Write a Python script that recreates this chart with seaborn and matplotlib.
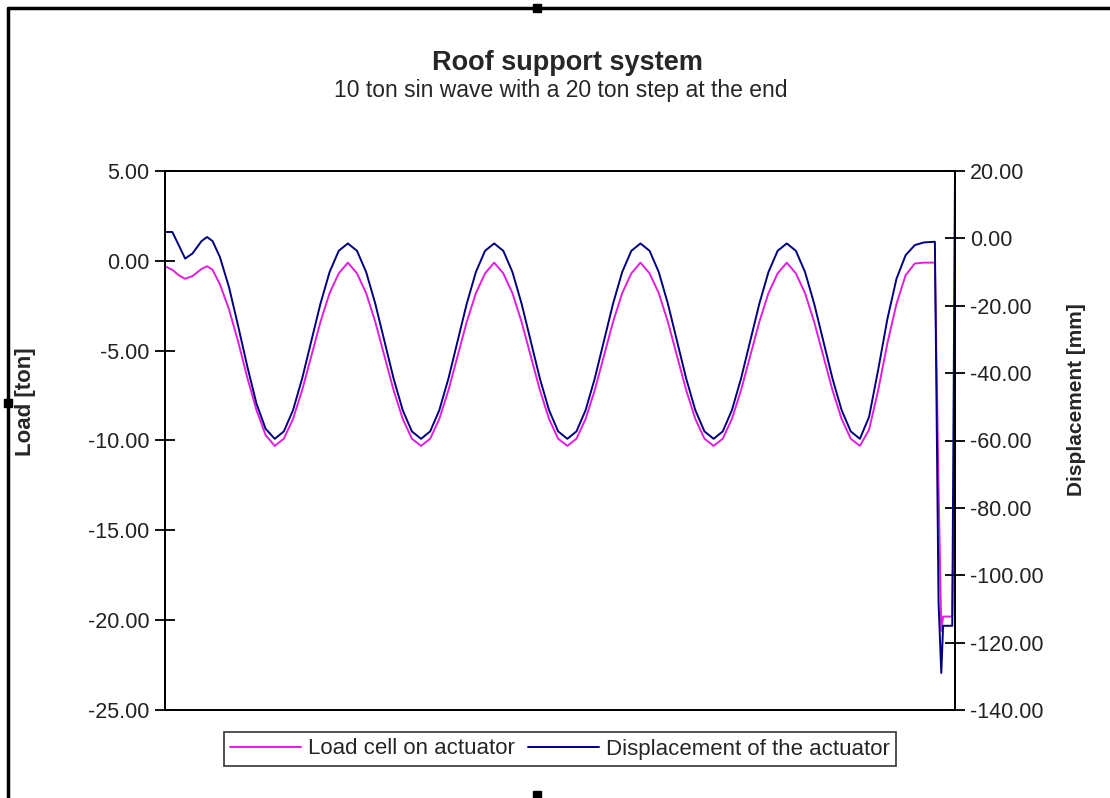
import numpy as np
import pandas as pd
import matplotlib
matplotlib.use("Agg")
import matplotlib.pyplot as plt
import seaborn as sns
from matplotlib.lines import Line2D
from matplotlib.patches import Rectangle

# time in seconds (no x axis labels in the original)
time_s = [0, 0.8, 1.5, 2.2, 3, 4, 4.6, 5.2, 6, 7, 8, 9, 10, 11,
          12, 13, 14, 15, 16, 17, 18, 19, 20, 21, 22, 23, 24, 25, 26, 27,
          28, 29, 30, 31, 32, 33, 34, 35, 36, 37, 38, 39, 40, 41, 42, 43,
          44, 45, 46, 47, 48, 49, 50, 51, 52, 53, 54, 55, 56, 57, 58, 59,
          60, 61, 62, 63, 64, 65, 66, 67, 68, 69, 70, 71, 72, 73, 74, 75,
          76, 77, 78, 79, 80, 81, 82, 83,
          84.2, 84.6, 84.9, 85.1, 86.1, 86.4]

load_ton = [-0.3, -0.5, -0.8, -1.0, -0.85, -0.45, -0.3, -0.5, -1.3, -2.7, -4.5, -6.5, -8.3, -9.7,
            -10.3, -9.9, -8.8, -7.2, -5.3, -3.4, -1.8, -0.7, -0.1, -0.7, -1.8, -3.4, -5.3, -7.2, -8.8, -9.9,
            -10.3, -9.9, -8.8, -7.2, -5.3, -3.4, -1.8, -0.7, -0.1, -0.7, -1.8, -3.4, -5.3, -7.2, -8.8, -9.9,
            -10.3, -9.9, -8.8, -7.2, -5.3, -3.4, -1.8, -0.7, -0.1, -0.7, -1.8, -3.4, -5.3, -7.2, -8.8, -9.9,
            -10.3, -9.9, -8.8, -7.2, -5.3, -3.4, -1.8, -0.7, -0.1, -0.7, -1.8, -3.4, -5.3, -7.2, -8.8, -9.9,
            -10.3, -9.4, -7.2, -4.6, -2.4, -0.8, -0.15, -0.1,
            -0.1, -12.5, -20.6, -19.8, -19.8, -8.5]

disp_mm = [1.9, 1.9, -2.0, -6.0, -4.5, -0.8, 0.4, -0.8, -5.5, -14.5, -26.0, -38.0, -49.0, -56.5,
           -59.5, -57.3, -51.0, -41.6, -30.5, -19.4, -10.0, -3.7, -1.5, -3.7, -10.0, -19.4, -30.5, -41.6, -51.0, -57.3,
           -59.5, -57.3, -51.0, -41.6, -30.5, -19.4, -10.0, -3.7, -1.5, -3.7, -10.0, -19.4, -30.5, -41.6, -51.0, -57.3,
           -59.5, -57.3, -51.0, -41.6, -30.5, -19.4, -10.0, -3.7, -1.5, -3.7, -10.0, -19.4, -30.5, -41.6, -51.0, -57.3,
           -59.5, -57.3, -51.0, -41.6, -30.5, -19.4, -10.0, -3.7, -1.5, -3.7, -10.0, -19.4, -30.5, -41.6, -51.0, -57.3,
           -59.5, -53.0, -39.0, -24.0, -12.0, -5.0, -2.0, -1.2,
           -1.0, -108.0, -129.0, -115.0, -115.0, 20.0]

load_ticks = [5, 0, -5, -10, -15, -20, -25]
disp_ticks = [20, 0, -20, -40, -60, -80, -100, -120, -140]

df = pd.DataFrame({"t": time_s, "load": load_ton, "disp": disp_mm})

sns.set_style("white")
plt.rcParams['font.family'] = ['Liberation Sans', 'DejaVu Sans']

magenta = "#E01EE0"
navy = "#000080"

fig = plt.figure(figsize=(11.1, 7.98), dpi=100)
ax = fig.add_axes([165/1110, 1-710/798, (955-165)/1110, (710-171)/798])
ax2 = ax.twinx()

sns.lineplot(data=df, x="t", y="load", ax=ax, color=magenta, linewidth=1.4,
             estimator=None, sort=False)
sns.lineplot(data=df, x="t", y="disp", ax=ax2, color=navy, linewidth=1.4,
             estimator=None, sort=False)

ax.set_xlim(0, 86.4)
ax.set_ylim(-25, 5)
ax2.set_ylim(-140, 20)
ax.set_xticks([])
ax.set_yticks(load_ticks)
ax.set_yticklabels([f"{v:.2f}" for v in load_ticks], fontsize=15.5, color="#222222")
ax2.set_yticks(disp_ticks)
ax2.set_yticklabels([f"{v:.2f}" for v in disp_ticks], fontsize=15.5, color="#222222")
ax.set_xlabel("")
ax.set_ylabel("")
ax2.set_ylabel("")
for a in (ax, ax2):
    a.tick_params(axis="y", direction="inout", length=14, width=1.3, color="black", pad=4)
    for s in a.spines.values():
        s.set_color("black")
        s.set_linewidth(1.3)
ax.patch.set_visible(False)

fig.text(25/1110, 1-402/798, "Load [ton]", rotation=90, ha="center", va="center",
         fontsize=16, fontweight="bold")
fig.text(1077/1110, 1-400/798, "Displacement [mm]", rotation=90, ha="center", va="center",
         fontsize=15, fontweight="bold")

fig.text(567/1110, 1-63/798, "Roof support system", ha="center", va="center",
         fontsize=19.5, fontweight="bold")
fig.text(561/1110, 1-91/798, "10 ton sin wave with a 20 ton step at the end", ha="center", va="center",
         fontsize=16.5)

handles = [Line2D([], [], color=magenta, linewidth=1.4),
           Line2D([], [], color=navy, linewidth=1.4)]
leg = fig.legend(handles, ["Load cell on actuator", "Displacement of the actuator"],
                 loc="center", bbox_to_anchor=(560/1110, 1-749/798), ncol=2,
                 frameon=True, fancybox=False, handlelength=3.2, handletextpad=0.3,
                 columnspacing=0.6, borderpad=0.3, prop={'size': 16})
leg.get_frame().set_edgecolor("black")
leg.get_frame().set_linewidth(1.2)

# chart frame and selection handles
fig.add_artist(Line2D([8/1110, 8/1110], [0, 1-8/798], color="black", linewidth=2.5))
fig.add_artist(Line2D([8/1110, 1], [1-8/798, 1-8/798], color="black", linewidth=2.5))
for hx, hy in [(537, 8), (8, 403), (537, 795)]:
    fig.add_artist(Rectangle(((hx-4)/1110, 1-(hy+4)/798), 8/1110, 8/798,
                             color="black", transform=fig.transFigure))

fig.savefig("out.png", dpi=100)
